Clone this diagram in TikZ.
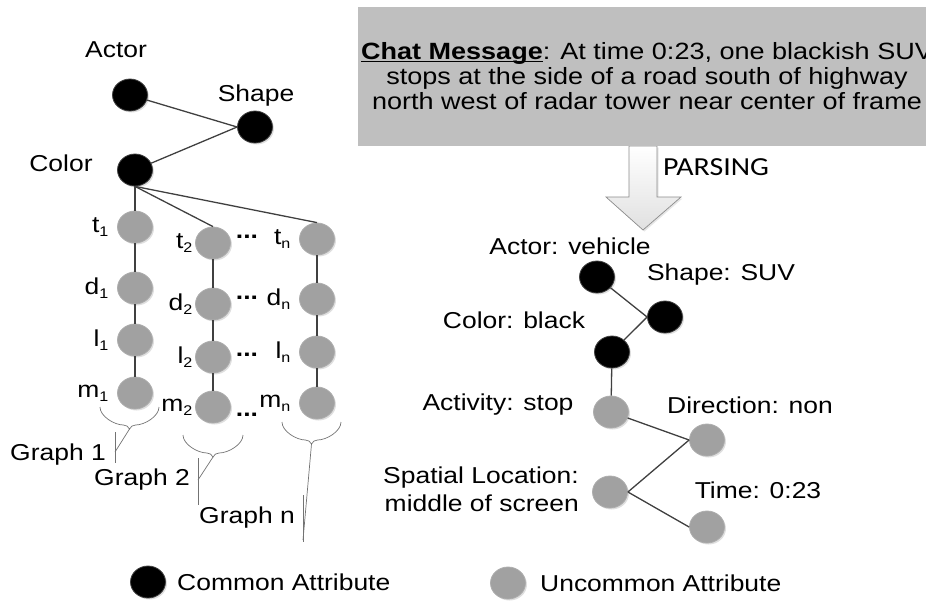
\documentclass[tikz,border=0pt]{standalone}
\usepackage{fontspec}
\setmainfont{Liberation Sans}[FakeStretch=1.15]
\newfontfamily\parsingfont{Carlito}[FakeStretch=1.15]
\usetikzlibrary{shapes.geometric,shadows}
\def\graphbrace(#1:#2:#3:#4){\draw[callout] (#1,#4) to[out=-90,in=180,looseness=0.8] (#2-6,#4+18) to[out=0,in=120] (#2,#4+22) to[out=60,in=180] (#2+6,#4+18) to[out=0,in=-90,looseness=0.8] (#3,#4);}
\newcommand\sub[1]{\textsubscript{\fontsize{14}{14}\selectfont #1}}
\newcommand\ulined[1]{\setbox0=\hbox{#1}\rlap{\rule[-2.5pt]{\wd0}{1.3pt}}\box0}

\tikzset{
	common/.style={ellipse, fill=black, draw=black!75, line width=0.8pt, minimum width=35pt, minimum height=32pt, inner sep=0pt,
		drop shadow={shadow xshift=1.5pt, shadow yshift=-1.5pt, opacity=0.25}},
	uncommon/.style={common, fill=black!37, draw=black!32},
	lbl/.style={inner sep=0pt},
	link/.style={draw=black!75, line width=1.3pt},
	callout/.style={draw=black!55, line width=0.7pt}
}

\begin{document}
\begin{tikzpicture}[x=1pt, y=-1pt, font=\fontsize{23}{25}\selectfont]
			%%%%% START %%%%%
			\clip (0,0) rectangle (926,600);
			
			% common part of the attribute graph
			\node[common] (actorL) at (130,95) {};
			\node[common] (shapeL) at (255,127) {};
			\node[common] (colorL) at (135,170) {};
			\node[lbl] (actorLlab) at (116,50) {Actor};
			\node[lbl] (shapeLlab) at (256,96) {Shape};
			\node[lbl] (colorLlab) at (61,163) {Color};
			\draw[link] (actorL) -- (shapeL.west);
			\draw[link] (colorL) -- (shapeL.west);
			
			% one column per graph
			\foreach \c/\x/\gap/\yt/\yd/\yl/\ym in {1/135/8/227/288/340/393, 2/213/2/243/304/357/407, n/317/8/239/299/352/403}{
				\node[uncommon] (t\c) at (\x,\yt) {};
				\node[uncommon] (d\c) at (\x,\yd) {};
				\node[uncommon] (l\c) at (\x,\yl) {};
				\node[uncommon] (m\c) at (\x,\ym) {};
				\node[lbl, anchor=east] (lt\c) at ([xshift=-\gap pt]t\c.west) {t\sub{\c}};
				\node[lbl, anchor=east] (ld\c) at ([xshift=-\gap pt]d\c.west) {d\sub{\c}};
				\node[lbl, anchor=east] (ll\c) at ([xshift=-\gap pt]l\c.west) {l\sub{\c}};
				\node[lbl, anchor=east] (lm\c) at ([xshift=-\gap pt]m\c.west) {m\sub{\c}};
				\draw[link] (t\c) -- (d\c) -- (l\c) -- (m\c);
			}
			\draw[link] (colorL) -- (t1);
			\draw[link] (colorL.south) -- (t2.north);
			\draw[link] (colorL.south) -- (tn.north);
			
			\foreach \y [count=\i] in {237,298,355,415}
				\node[lbl] (dots\i) at (247,\y) {\textbf{...}};
			
			% braces and graph names
			\graphbrace(100:129.5:159:407)
			\draw[callout] (129.5,429) -- (115,452);
			\draw[callout] (115,432) -- (115,463);
			\node[lbl] (graph1) at (58,455) {Graph 1};
			
			\graphbrace(183:213:243:435)
			\draw[callout] (213,457) -- (198,480);
			\draw[callout] (198,458) -- (198,505);
			\node[lbl] (graph2) at (142,480) {Graph 2};
			
			\graphbrace(282:311.5:341:422)
			\draw[callout] (311.5,444) -- (303,540);
			\draw[callout] (303,495) -- (303,542);
			\node[lbl] (graphn) at (247,518) {Graph n};
			
			% chat message and parsing arrow
			\draw[draw=black!45, top color=white, bottom color=black!12, line width=0.7pt,
				drop shadow={shadow xshift=1.5pt, shadow yshift=-1.5pt, opacity=0.2}]
				(629,146) -- (629,197) -- (606,197) -- (643,230) -- (681,197) -- (657,197) -- (657,146) -- cycle;
			\node[fill=black!25, minimum width=578pt, minimum height=139pt, align=center, inner sep=0pt,
				font=\fontsize{23.5}{25}\selectfont] (chat) at (647,76.5)
				{\ulined{\textbf{Chat Message}}: At time 0:23, one blackish SUV\\stops at the side of a road south of highway\\north west of radar tower near center of frame};
			\node[lbl, font=\parsingfont\fontsize{26}{28}\selectfont] (parsing) at (716,167) {PARSING};
			
			% parsed graph
			\node[common] (actorR) at (597,277) {};
			\node[common] (shapeR) at (665,317) {};
			\node[common] (colorR) at (612,352) {};
			\node[uncommon] (actR) at (611,412) {};
			\node[uncommon] (dirR) at (707,440) {};
			\node[uncommon] (spaR) at (610,492) {};
			\node[uncommon] (timeR) at (707,527) {};
			\draw[link] (actorR) -- (shapeR.west);
			\draw[link] (colorR) -- (shapeR.west);
			\draw[link] (colorR) -- (actR);
			\draw[link] (actR) -- (dirR.west);
			\draw[link] (spaR.east) -- (dirR.west);
			\draw[link] (spaR.east) -- (timeR.west);
			\node[lbl] (actorRlab) at (570,246) {Actor: vehicle};
			\node[lbl] (shapeRlab) at (721,275) {Shape: SUV};
			\node[lbl] (colorRlab) at (514,320) {Color: black};
			\node[lbl] (actRlab) at (498,405) {Activity: stop};
			\node[lbl] (dirRlab) at (750,405) {Direction: non};
			\node[lbl, align=right, font=\fontsize{23}{28}\selectfont] (spaRlab) at (481,489) {Spatial Location:\\middle of screen};
			\node[lbl] (timeRlab) at (758,490) {Time: 0:23};
			
			% legend
			\node[common] (keyC) at (148,582) {};
			\node[lbl, anchor=west] (keyClab) at (177,582) {Common Attribute};
			\node[uncommon] (keyU) at (508,583) {};
			\node[lbl, anchor=west] (keyUlab) at (540,583) {Uncommon Attribute};
			
			%%%%% END %%%%%
\end{tikzpicture}
\end{document}
